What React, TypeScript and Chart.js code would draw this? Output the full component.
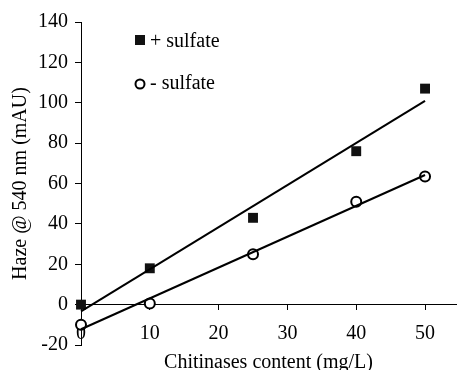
import React, { useEffect, useRef } from "react";
import { Chart, registerables } from "chart.js";

Chart.register(...registerables);

const seriesLabels = ["+ sulfate", "- sulfate"];
const concentrations = [0, 10, 25, 40, 50];
const withSulfate = [0, 18, 43, 76, 107];
const withoutSulfate = [-10, 0.5, 25, 51, 63.5];
// linear trend line end points (x = 0 and x = 50)
const trendX = [0, 50];
const trendWithSulfate = [-3.3, 100.9];
const trendWithoutSulfate = [-12.2, 64.2];
const xTicks = [0, 10, 20, 30, 40, 50];
const yTicks = [-20, 0, 20, 40, 60, 80, 100, 120, 140];

const FONT = "'Liberation Serif', 'Times New Roman', serif";

const legendPlugin = {
  id: "insideLegend",
  afterDraw(chart: any) {
    const ctx = chart.ctx;
    ctx.save();
    ctx.font = `20px ${FONT}`;
    ctx.textBaseline = "middle";
    ctx.textAlign = "left";
    ctx.fillStyle = "#111";
    ctx.fillRect(135, 35, 10, 10);
    ctx.fillStyle = "#000";
    ctx.fillText(seriesLabels[0], 150, 42);
    ctx.beginPath();
    ctx.arc(140, 84, 4.5, 0, Math.PI * 2);
    ctx.lineWidth = 2;
    ctx.strokeStyle = "#000";
    ctx.stroke();
    ctx.fillText(seriesLabels[1], 150, 84);
    ctx.restore();
  },
};

export default function App() {
  const ref = useRef<HTMLCanvasElement>(null);
  useEffect(() => {
    document.body.style.margin = "0";
    const chart = new Chart(ref.current!, {
      type: "scatter",
      data: {
        datasets: [
          {
            type: "line",
            label: "trend+",
            data: trendX.map((x, i) => ({ x, y: trendWithSulfate[i] })),
            borderColor: "#000",
            borderWidth: 2,
            pointRadius: 0,
            clip: false,
          },
          {
            type: "line",
            label: "trend-",
            data: trendX.map((x, i) => ({ x, y: trendWithoutSulfate[i] })),
            borderColor: "#000",
            borderWidth: 2,
            pointRadius: 0,
            clip: false,
          },
          {
            label: seriesLabels[0],
            data: concentrations.map((x, i) => ({ x, y: withSulfate[i] })),
            pointStyle: "rect",
            pointRadius: 7,
            backgroundColor: "#111",
            borderColor: "#111",
            borderWidth: 0,
            clip: false,
          },
          {
            label: seriesLabels[1],
            data: concentrations.map((x, i) => ({ x, y: withoutSulfate[i] })),
            pointStyle: "circle",
            pointRadius: 5,
            backgroundColor: "#fff",
            borderColor: "#000",
            borderWidth: 2,
            clip: false,
          },
        ] as any,
      },
      options: {
        animation: false,
        responsive: false,
        layout: { padding: { top: 22, bottom: 25, left: 0, right: 0 } },
        plugins: { legend: { display: false }, tooltip: { enabled: false } },
        scales: {
          x: {
            type: "linear",
            position: { y: 0 } as any,
            min: 0,
            max: 54.5,
            afterBuildTicks: (scale: any) => {
              scale.ticks = xTicks.map((v) => ({ value: v }));
            },
            grid: {
              drawOnChartArea: false,
              drawTicks: true,
              tickLength: 5,
              color: "#000",
            },
            border: { color: "#000", width: 1 },
            ticks: {
              color: "#000",
              font: { family: FONT, size: 20 },
              padding: 12,
              maxRotation: 0,
            },
            title: {
              display: true,
              text: "Chitinases content (mg/L)",
              color: "#000",
              font: { family: FONT, size: 20 },
              padding: { top: -7, bottom: 0 },
            },
          },
          y: {
            type: "linear",
            min: -20,
            max: 140,
            afterBuildTicks: (scale: any) => {
              scale.ticks = yTicks.map((v) => ({ value: v }));
            },
            afterFit: (scale: any) => {
              scale.width = 81;
            },
            grid: {
              drawOnChartArea: false,
              drawTicks: true,
              tickLength: 6,
              color: "#000",
            },
            border: { color: "#000", width: 1 },
            ticks: {
              color: "#000",
              font: { family: FONT, size: 20 },
              padding: 7,
            },
            title: {
              display: true,
              text: "Haze @ 540 nm (mAU)",
              color: "#000",
              font: { family: FONT, size: 20 },
              padding: { top: 9, bottom: 0 },
            },
          },
        },
      },
      plugins: [legendPlugin],
    });
    return () => chart.destroy();
  }, []);
  return (
    <div style={{ position: "absolute", left: 0, top: 0, width: 463, height: 370 }}>
      <canvas ref={ref} width={463} height={370} style={{ width: 463, height: 370 }} />
    </div>
  );
}
